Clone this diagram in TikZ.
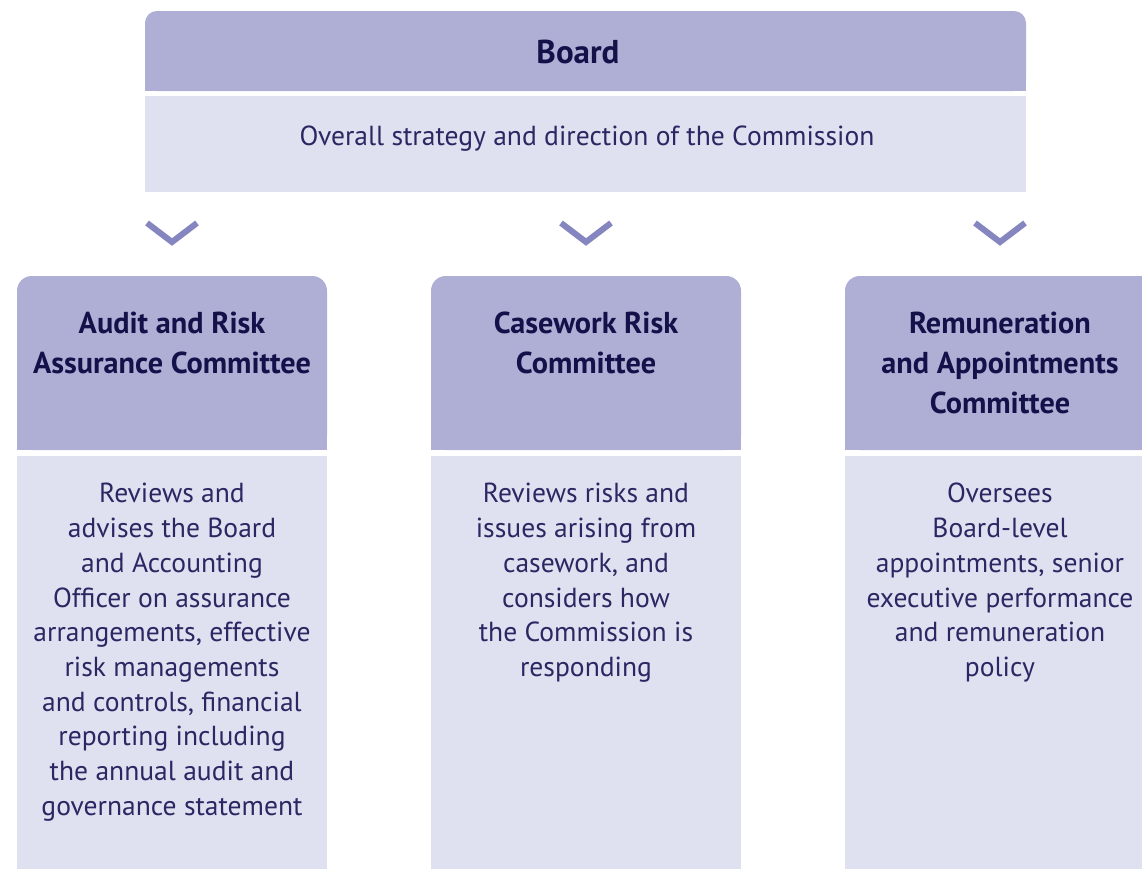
\documentclass[tikz,border=0pt]{standalone}
\usepackage{fontspec}
\setmainfont{PT Sans}
\definecolor{headfill}{HTML}{AFAFD5}
\definecolor{bodyfill}{HTML}{DFE0F0}
\definecolor{chevcol}{HTML}{8585BF}
\definecolor{titlecol}{HTML}{14104A}
\definecolor{textcol}{HTML}{2B2762}
\begin{document}
\begin{tikzpicture}[x=0.025cm,y=-0.025cm,
        hd/.style={anchor=north,inner sep=0pt,align=center,text=titlecol,font=\bfseries\fontsize{21.5}{28.5}\selectfont},
        tx/.style={anchor=north,inner sep=0pt,align=center,text=textcol,font=\fontsize{19.6}{24.7}\selectfont},
        chv/.style={draw=chevcol,line width=4.3pt,miter limit=10}]
        \useasboundingbox (0,0) rectangle (1142,868);
        \clip (0,0) rectangle (1142,868);
        \fill[headfill,rounded corners=8.5pt] (145,11) rectangle (1026,91);
        \fill[headfill] (145,40) rectangle (1026,91);
        \fill[bodyfill] (145,96) rectangle (1026,192);
        \node[hd,anchor=center,font=\bfseries\fontsize{23.5}{28.5}\selectfont] (board) at(578,52) {Board};
        \node[tx,anchor=center] (boardtext) at(587,139) {Overall strategy and direction of the Commission};
        \foreach[count=\i] \cx/\nm/\ttl/\txt in {
            172/audit/{Audit and Risk\\Assurance Committee}/{Reviews and\\advises the Board\\and Accounting\\Officer on assurance\\arrangements, effective\\risk managements\\and controls, financial\\reporting including\\the annual audit and\\governance statement},
            586/casework/{Casework Risk\\Committee}/{Reviews risks and\\issues arising from\\casework, and\\considers how\\the Commission is\\responding},
            1000/remun/{Remuneration\\and Appointments\\Committee}/{Oversees\\Board-level\\appointments, senior\\executive performance\\and remuneration\\policy}} {
            \draw[chv] ({\cx-25},223) -- (\cx,242) -- ({\cx+25},223);
            \fill[headfill,rounded corners=10.5pt] ({\cx-155},276) rectangle ({\cx+155},450);
            \fill[headfill] ({\cx-155},320) rectangle ({\cx+155},450);
            \fill[bodyfill] ({\cx-155},456) rectangle ({\cx+155},880);
            \node[hd] (\nm) at(\cx,312) {\ttl};
            \node[tx] (\nm-text) at(\cx,483) {\txt};
        }
    \end{tikzpicture}
\end{document}
